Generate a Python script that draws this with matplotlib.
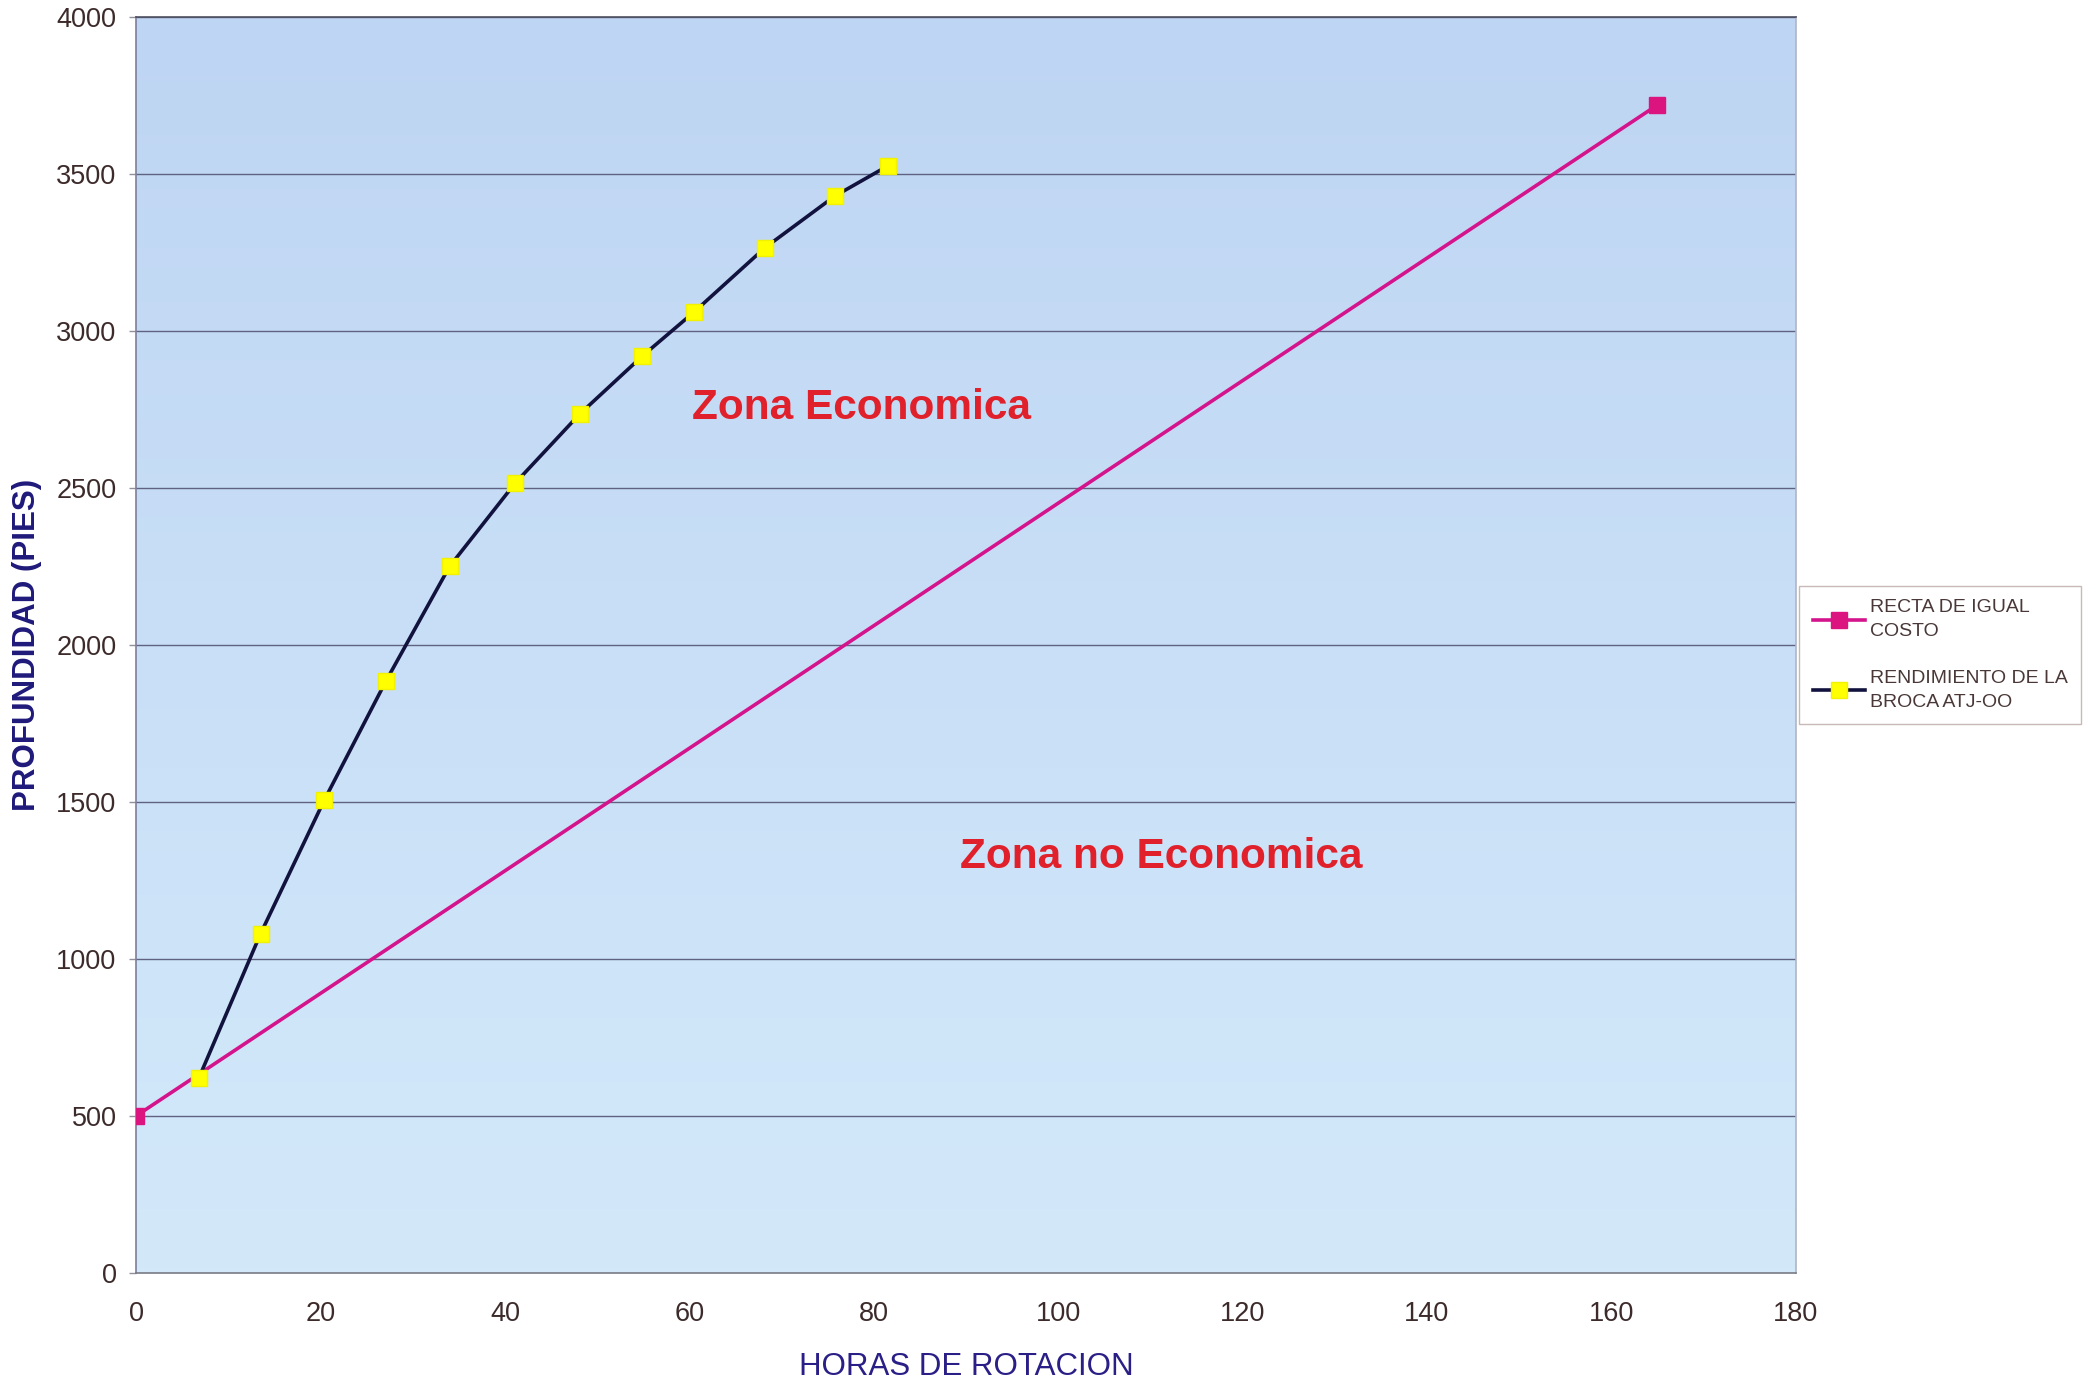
import numpy as np
import matplotlib
matplotlib.use("Agg")
import matplotlib.pyplot as plt
from matplotlib.colors import LinearSegmentedColormap

# Equal-cost line (hours, depth in ft)
recta_horas = [0, 165]
recta_prof = [500, 3720]

# Bit performance ATJ-OO (hours, depth in ft)
broca_horas = [6.8, 13.5, 20.4, 27.1, 34.0, 41.1, 48.1, 54.9, 60.5, 68.2, 75.8, 81.6]
broca_prof = [620, 1080, 1505, 1885, 2250, 2515, 2735, 2920, 3060, 3265, 3430, 3527]

x_ticks = [0, 20, 40, 60, 80, 100, 120, 140, 160, 180]
y_ticks = [0, 500, 1000, 1500, 2000, 2500, 3000, 3500, 4000]

plt.rcParams['font.family'] = ['Liberation Sans', 'DejaVu Sans']

fig = plt.figure(figsize=(20.93, 13.82), dpi=100)
ax = fig.add_axes([0.065, 0.0789, 0.793, 0.9088])

# Plot area: soft blue vertical gradient
cmap = LinearSegmentedColormap.from_list(
    "fondo", ["#d3e9fa", "#c9dff7", "#bed5f3"])
grad = np.linspace(0, 1, 256).reshape(-1, 1)
ax.imshow(grad, cmap=cmap, aspect='auto', origin='lower',
          extent=[0, 180, 0, 4000], zorder=0)

ax.set_xlim(0, 180)
ax.set_ylim(0, 4000)

# Horizontal gridlines
for yv in y_ticks[1:]:
    ax.axhline(yv, color='#5f6280', lw=1.0, zorder=1)

ax.plot(recta_horas, recta_prof, color='#d4148c', lw=2.6, marker='s',
        markersize=11.5, markerfacecolor='#dc1480', markeredgecolor='#dc1480',
        label='RECTA DE IGUAL\nCOSTO', zorder=3)
ax.plot(broca_horas, broca_prof, color='#12123e', lw=2.6, marker='s',
        markersize=11.5, markerfacecolor='#ffff00', markeredgecolor='#f2f200',
        label='RENDIMIENTO DE LA\nBROCA ATJ-OO', zorder=4)

ax.text(78.7, 2755, 'Zona Economica', color='#e0202a', fontsize=30.5,
        fontweight='bold', ha='center', va='center', zorder=5)
ax.text(111.2, 1325, 'Zona no Economica', color='#e0202a', fontsize=30.5,
        fontweight='bold', ha='center', va='center', zorder=5)

ax.set_xticks(x_ticks)
ax.set_yticks(y_ticks)
ax.tick_params(axis='x', length=0, pad=20, labelsize=19.5, labelcolor='#3d2b2b')
ax.tick_params(axis='y', length=5, width=1, color='#9090a0', pad=9,
               labelsize=19.5, labelcolor='#3d2b2b')

ax.set_xlabel('HORAS DE ROTACION', fontsize=22.5, color='#2a1f86', labelpad=18)
ax.set_ylabel('PROFUNDIDAD (PIES)', fontsize=22.5, color='#1f1a7a',
              fontweight='bold', labelpad=10)

ax.spines['left'].set_color('#7d7f9a')
ax.spines['bottom'].set_color('#7a7a84')
ax.spines['top'].set_color('#4e5060')
ax.spines['right'].set_color('#b0b4c4')
for s in ax.spines.values():
    s.set_linewidth(1.2)

leg = fig.legend(loc='center left', bbox_to_anchor=(0.8595, 0.526),
                 fontsize=14, frameon=True, fancybox=False,
                 handlelength=2.7, handletextpad=0.25, labelspacing=1.5,
                 borderpad=0.7, borderaxespad=0.0, labelcolor='#4a3838')
for t in leg.get_texts():
    t.set_linespacing(1.55)
leg.get_frame().set_edgecolor('#c8b8b8')
leg.get_frame().set_linewidth(1.0)
leg.get_frame().set_facecolor('white')
leg.get_frame().set_alpha(1.0)

fig.savefig('out.png', dpi=100)
